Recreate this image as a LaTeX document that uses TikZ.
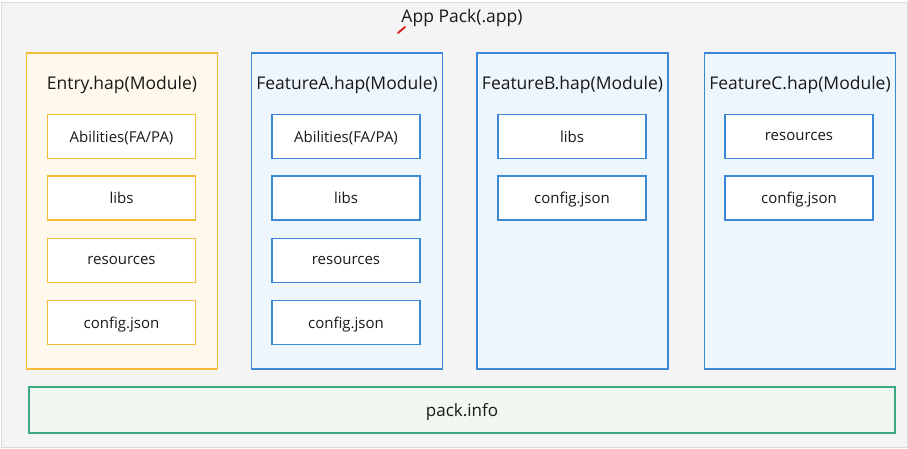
\documentclass[tikz,border=0pt]{standalone}
\usepackage{fontspec}
\setmainfont{Open Sans}
\usepackage{tikz}
\definecolor{pageback}{HTML}{F4F4F4}
\definecolor{pageline}{HTML}{DADADA}
\definecolor{entryline}{HTML}{F7BC37}
\definecolor{entryfill}{HTML}{FFF8EC}
\definecolor{featline}{HTML}{3C88D6}
\definecolor{featfill}{HTML}{EEF6FD}
\definecolor{packline}{HTML}{3BAA82}
\definecolor{packfill}{HTML}{F2F8F1}
\definecolor{penred}{HTML}{D9232A}
\tikzstyle{module} = [draw, line width=1.6pt, minimum width=191pt, minimum height=316pt, inner sep=0pt]
\tikzstyle{title} = [font=\fontsize{17.5}{20}\selectfont, text=black!90, yshift=-3pt]
\tikzstyle{item} = [draw, fill=white, line width=1.6pt, minimum width=148pt, minimum height=44pt, inner sep=0pt, text depth=0pt, font=\fontsize{15}{18}\selectfont, text=black!90]

\begin{document}
\begin{tikzpicture}[x=1pt,y=-1pt]
  \useasboundingbox (0,0) rectangle (908,449);
  \draw [fill=pageback, draw=pageline] (1,2) rectangle (907,447);
  \node [font=\fontsize{17.5}{20}\selectfont, text=black!90, yshift=-2pt] (app) at (462,16) {App Pack(.app)};
  % pen mark
  \draw [penred, line width=2pt, line cap=round] (398,33) -- (405,27);

  % Entry module
  \node [module, draw=entryline, fill=entryfill] (entry) at (122,211) {};
  \node [title] (entryt) at (122,82) {Entry.hap(Module)};
  \node [item, draw=entryline] (e1) at (121.5,136.5) {Abilities(FA/PA)};
  \node [item, draw=entryline] (e2) at (121.5,198) {libs};
  \node [item, draw=entryline] (e3) at (121.5,260.5) {resources};
  \node [item, draw=entryline] (e4) at (121.5,322.5) {config.json};

  % FeatureA module
  \node [module, draw=featline, fill=featfill] (fa) at (347,211) {};
  \node [title] (fat) at (347,82) {FeatureA.hap(Module)};
  \node [item, draw=featline] (a1) at (346,136.5) {Abilities(FA/PA)};
  \node [item, draw=featline] (a2) at (346,198) {libs};
  \node [item, draw=featline] (a3) at (346,260.5) {resources};
  \node [item, draw=featline] (a4) at (346,322.5) {config.json};

  % FeatureB module
  \node [module, draw=featline, fill=featfill] (fb) at (572.5,211) {};
  \node [title] (fbt) at (572.5,82) {FeatureB.hap(Module)};
  \node [item, draw=featline] (b1) at (572,136.5) {libs};
  \node [item, draw=featline] (b2) at (572,198) {config.json};

  % FeatureC module
  \node [module, draw=featline, fill=featfill] (fc) at (800,211) {};
  \node [title] (fct) at (800,82) {FeatureC.hap(Module)};
  \node [item, draw=featline] (c1) at (799,136.5) {resources};
  \node [item, draw=featline] (c2) at (799,198) {config.json};

  % pack.info
  \node [draw=packline, fill=packfill, line width=1.6pt, minimum width=866pt, minimum height=46pt, inner sep=0pt, text depth=0pt, font=\fontsize{17}{20}\selectfont, text=black!90] (pack) at (462,410) {pack.info};
\end{tikzpicture}
\end{document}
